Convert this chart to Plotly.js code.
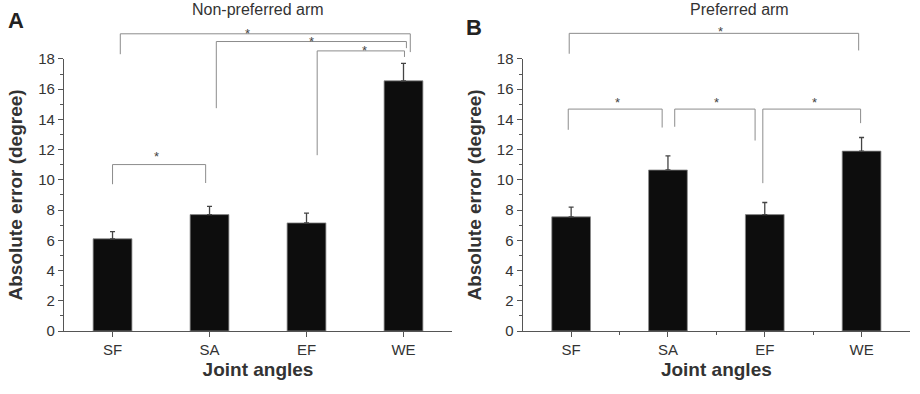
<!DOCTYPE html>
<html><head><meta charset="utf-8">
<script src="https://cdn.plot.ly/plotly-3.0.1.min.js"></script>
<style>body{margin:0;background:#fff}#chart{width:920px;height:394px}</style>
</head><body><div id="chart"></div>
<script>
const categories = ['SF', 'SA', 'EF', 'WE'];
const nonPreferredMean = [6.1, 7.7, 7.15, 16.55];
const nonPreferredErr = [0.47, 0.55, 0.65, 1.15];
const preferredMean = [7.55, 10.65, 7.7, 11.9];
const preferredErr = [0.65, 0.93, 0.8, 0.9];
const yTickVals = [0, 2, 4, 6, 8, 10, 12, 14, 16, 18];
const panelTitles = ['Non-preferred arm', 'Preferred arm'];
const panelLetters = ['A', 'B'];
const xTitle = 'Joint angles';
const yTitle = 'Absolute error (degree)';
// significance brackets: [leftX, rightX, lineY, leftEndY, rightEndY, starX, starY] (x = category index, y = degrees)
const nonPreferredBrackets = [
  [0.08, 3.07, 19.66, 18.31, 18.45, 1.39, 19.83],
  [1.07, 3.03, 19.15, 14.74, 18.71, 2.05, 19.30],
  [2.11, 3.01, 18.53, 11.63, 18.13, 2.60, 18.73],
  [0.00, 0.96, 11.01, 9.71, 9.79, 0.45, 11.69]
];
const preferredBrackets = [
  [-0.02, 2.97, 19.69, 18.34, 18.56, 1.54, 20.0],
  [-0.03, 0.94, 14.68, 13.31, 13.46, 0.48, 15.3],
  [1.07, 1.90, 14.68, 13.51, 12.60, 1.50, 15.3],
  [1.98, 2.99, 14.68, 9.78, 13.75, 2.51, 15.3]
];

const yMax = 18;
const yDom = [0.1599, 0.8505];
const xDomL = [0.0696, 0.4913];
const xDomR = [0.5682, 0.9891];
const font = 'Liberation Sans, Arial, sans-serif';
const txt = '#333';
const axCol = '#555';
const idx = categories.map((c, i) => i);

function toPaper(v) { return yDom[0] + v / yMax * (yDom[1] - yDom[0]); }

function barTrace(vals, errs, xa, ya) {
  return {
    type: 'bar', x: idx, y: vals, xaxis: xa, yaxis: ya, width: 0.4,
    marker: {color: '#0d0d0d', line: {color: '#8a8a8a', width: 0.8}},
    error_y: {type: 'data', array: errs, arrayminus: errs.map(() => 0), symmetric: false,
      color: '#444', thickness: 1.3, width: 2.5},
    hoverinfo: 'none', showlegend: false
  };
}

const shapes = [];
const annotations = [];
function addBrackets(list, xref) {
  list.forEach(b => {
    const [x1, x2, yl, y1, y2, sx, sy] = b;
    shapes.push({type: 'path', xref: xref, yref: 'paper',
      path: `M ${x1},${toPaper(y1)} L ${x1},${toPaper(yl)} L ${x2},${toPaper(yl)} L ${x2},${toPaper(y2)}`,
      line: {color: '#8c8c8c', width: 1}});
    annotations.push({xref: xref, yref: 'paper', x: sx, y: toPaper(sy), text: '*', showarrow: false,
      xanchor: 'center', yanchor: 'middle', yshift: -2.6, font: {family: font, size: 13, color: '#444'}});
  });
}
addBrackets(nonPreferredBrackets, 'x');
addBrackets(preferredBrackets, 'x2');

annotations.push(
  {xref: 'paper', yref: 'paper', x: 258 / 920, y: 1 - 9.5 / 394, text: panelTitles[0], showarrow: false,
    xanchor: 'center', yanchor: 'middle', font: {family: font, size: 16, color: txt}},
  {xref: 'paper', yref: 'paper', x: 739 / 920, y: 1 - 9.5 / 394, text: panelTitles[1], showarrow: false,
    xanchor: 'center', yanchor: 'middle', font: {family: font, size: 16, color: txt}},
  {xref: 'paper', yref: 'paper', x: 16 / 920, y: 1 - 21 / 394, text: '<b>' + panelLetters[0] + '</b>', showarrow: false,
    xanchor: 'center', yanchor: 'middle', font: {family: font, size: 22, color: '#222'}},
  {xref: 'paper', yref: 'paper', x: 474 / 920, y: 1 - 27 / 394, text: '<b>' + panelLetters[1] + '</b>', showarrow: false,
    xanchor: 'center', yanchor: 'middle', font: {family: font, size: 22, color: '#222'}}
);

function xAxis(dom, anchor, minor) {
  const ax = {
    domain: dom, anchor: anchor, range: [-0.5, 3.5], tickvals: idx, ticktext: categories,
    showline: true, linecolor: axCol, linewidth: 1.2, ticks: 'outside', ticklen: 5, tickcolor: axCol,
    tickwidth: 1, showgrid: false, zeroline: false, fixedrange: true,
    tickfont: {family: font, size: 15, color: txt},
    title: {text: '<b>' + xTitle + '</b>', font: {family: font, size: 19, color: txt}, standoff: 5}
  };
  if (minor) ax.minor = {tickvals: [0.5, 1.5, 2.5], ticks: 'outside', ticklen: 3, tickcolor: axCol, showgrid: false};
  return ax;
}
function yAxis(anchor) {
  return {
    domain: yDom, anchor: anchor, range: [0, yMax], tickvals: yTickVals,
    showline: true, linecolor: axCol, linewidth: 1.2, ticks: 'outside', ticklen: 5, tickcolor: axCol,
    tickwidth: 1, showgrid: false, zeroline: false, fixedrange: true,
    minor: {dtick: 1, ticks: 'outside', ticklen: 3, tickcolor: axCol, showgrid: false},
    tickfont: {family: font, size: 15, color: txt},
    title: {text: '<b>' + yTitle + '</b>', font: {family: font, size: 19, color: txt}, standoff: 10}
  };
}

const layout = {
  width: 920, height: 394, margin: {l: 0, r: 0, t: 0, b: 0},
  paper_bgcolor: '#fff', plot_bgcolor: 'rgba(0,0,0,0)',
  xaxis: xAxis(xDomL, 'y', false), yaxis: yAxis('x'),
  xaxis2: xAxis(xDomR, 'y2', true), yaxis2: yAxis('x2'),
  shapes: shapes, annotations: annotations, bargap: 0.6
};

Plotly.newPlot('chart', [
  barTrace(nonPreferredMean, nonPreferredErr, 'x', 'y'),
  barTrace(preferredMean, preferredErr, 'x2', 'y2')
], layout, {displayModeBar: false, staticPlot: true});
</script></body></html>
